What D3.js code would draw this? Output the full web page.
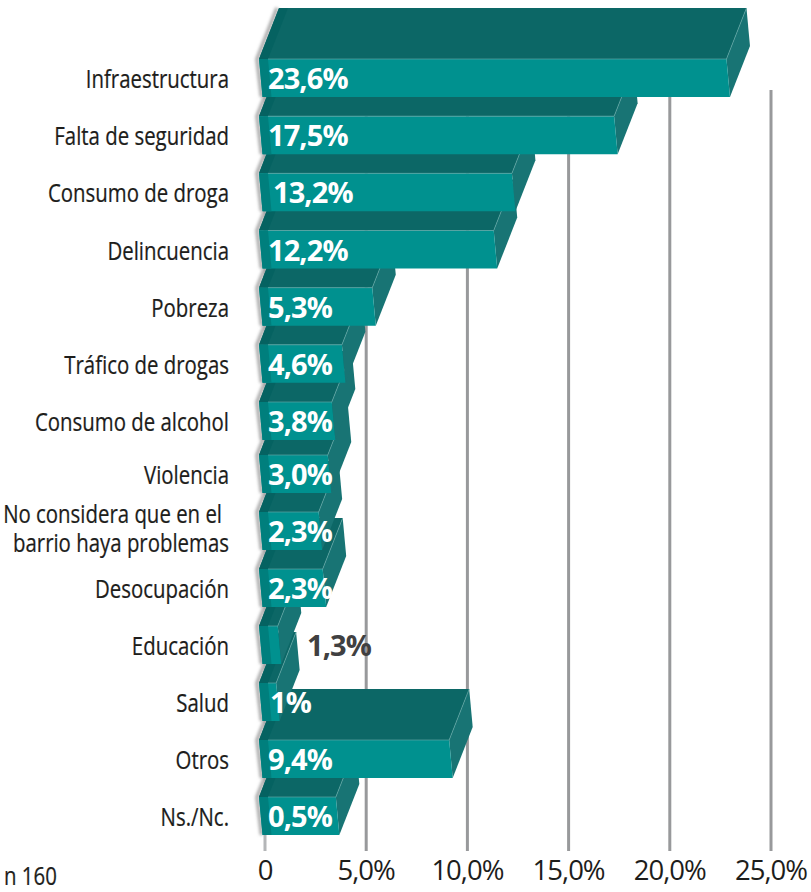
<!DOCTYPE html>
<html><head><meta charset="utf-8">
<script src="https://cdn.jsdelivr.net/npm/d3@7"></script>
<style>html,body{margin:0;padding:0;background:#fff}svg{display:block}</style>
</head><body><svg id="c" width="811" height="892"></svg>
<script>
const categories = ["Infraestructura","Falta de seguridad","Consumo de droga","Delincuencia","Pobreza","Tráfico de drogas","Consumo de alcohol","Violencia","No considera que en el|barrio haya problemas","Desocupación","Educación","Salud","Otros","Ns./Nc."];
const valueLabels = ["23,6%","17,5%","13,2%","12,2%","5,3%","4,6%","3,8%","3,0%","2,3%","2,3%","1,3%","1%","9,4%","0,5%"];
const drawnLengths = [22.8,17.25,12.2,11.3,5.3,3.8,3.3,3.1,2.65,2.85,0.63,0.55,9.1,3.5];
const tickValues = [0,5,10,15,20,25];
const tickLabels = ["0","5,0%","10,0%","15,0%","20,0%","25,0%"];

const svg = d3.select("#c");
const x = d3.scaleLinear().domain([0,25]).range([265,771]);
const y = d3.scaleLinear().domain([0,6,7,13]).range([59,402,455,797]);
const barH = 38, depthX = 20, depthY = -51, leftX = 259, bandW = 9, skew = 3.5;
const narrow = 0.785;

const defs = svg.append("defs");
defs.append("filter").attr("id","soft").attr("x","-50%").attr("width","200%")
  .append("feGaussianBlur").attr("stdDeviation",1.5);

svg.append("g").selectAll("line").data(tickValues).join("line")
  .attr("x1",d=>x(d)).attr("x2",d=>x(d)).attr("y1",90).attr("y2",851)
  .attr("stroke",d=>d===0?"#b4b6b8":"#98999b").attr("stroke-width",3);

const line = d3.line();
const rows = categories.map((c,i)=>({c,i,label:valueLabels[i],len:drawnLengths[i]}));

const bars = svg.append("g").selectAll("g").data(rows.slice().reverse()).join("g");
bars.each(function(d){
  const g = d3.select(this), t = y(d.i), b = t+barH, r = x(d.len);
  const poly = (pts,fill)=>g.append("path").attr("d",line(pts)+"Z").attr("fill",fill);
  g.append("path").attr("d",line([[leftX+skew-1,b],[leftX-2,t],[leftX+depthX-2,t+depthY]]))
    .attr("fill","none").attr("stroke","#a9a9a9").attr("stroke-width",3.5).attr("filter","url(#soft)");
  poly([[leftX,t],[r,t],[r+depthX,t+depthY],[leftX+depthX,t+depthY]],"#0c6766");
  poly([[leftX,t],[leftX+bandW,t],[leftX+bandW+depthX,t+depthY],[leftX+depthX,t+depthY]],"#056261");
  poly([[r,t],[r+skew,b],[r+skew+depthX,b+depthY],[r+depthX,t+depthY]],"#187474");
  poly([[leftX,t],[r,t],[r+skew,b],[leftX+skew,b]],"#00918f");
  poly([[leftX,t],[leftX+bandW,t],[leftX+bandW+skew,b],[leftX+skew,b]],"#007f7d");
  g.append("path").attr("d",line([[leftX+bandW,t],[r,t],[r+depthX,t+depthY]]))
    .attr("fill","none").attr("stroke","#5fa5a4").attr("stroke-width",0.7);
});

const labelStart = i => ({2:273,10:307,11:270}[i] ?? 268);
svg.append("g").selectAll("text").data(rows).join("text")
  .attr("x",d=>labelStart(d.i)).attr("y",d=>y(d.i)+barH/2+11)
  .attr("font-family","'Open Sans'").attr("font-weight",700).attr("font-size",29)
  .attr("letter-spacing",-0.9)
  .attr("fill",d=>d.i===10?"#404041":"#fff").text(d=>d.label);

const narrowText = (sel,px,py,anchor)=>sel.append("text")
  .attr("transform",`translate(${px},${py}) scale(${narrow},1)`)
  .attr("text-anchor",anchor).attr("font-family","'Open Sans'").attr("font-size",26)
  .attr("stroke","#1d1d1b").attr("stroke-width",0.25)
  .attr("fill","#1d1d1b");

const catG = svg.append("g");
rows.forEach(d=>{
  const parts = d.c.split("|"), mid = y(d.i)+barH/2;
  if (parts.length === 1) {
    narrowText(catG,229,mid+10,"end").text(d.c);
  } else {
    const t = narrowText(catG,229,mid-8,"end");
    t.append("tspan").attr("x",-7/narrow).attr("y",0).text(parts[0]);
    t.append("tspan").attr("x",0).attr("y",29).text(parts[1]);
  }
});

svg.append("g").selectAll("text").data(tickValues).join("text")
  .attr("x",d=>Math.min(x(d),775)).attr("y",880).attr("text-anchor","middle")
  .attr("font-family","'Open Sans'").attr("font-size",27.5).attr("letter-spacing",-1).attr("fill","#1d1d1b")
  .text((d,i)=>tickLabels[i]);

narrowText(svg,4,885,"start").text("n 160");
</script></body></html>
